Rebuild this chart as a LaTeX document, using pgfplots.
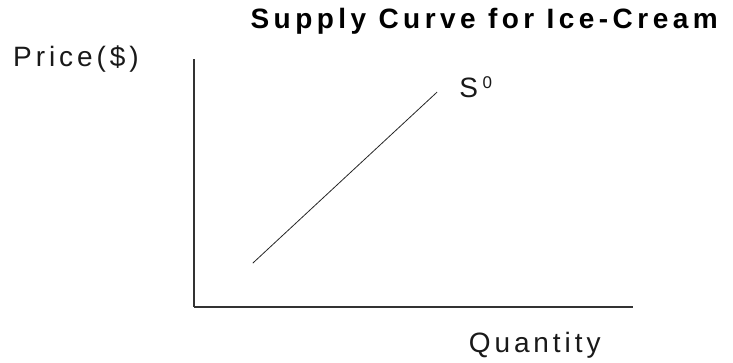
\documentclass[border=0pt]{standalone}
\usepackage{fontspec}
\setmainfont{Liberation Sans}
\usepackage{pgfplots}
\pgfplotsset{compat=1.18}
\begin{document}
\begin{tikzpicture}[x=1pt,y=1pt]
\path[use as bounding box] (0,0) rectangle (733,363);
\begin{axis}[
  at={(194pt,56pt)}, anchor=south west,
  scale only axis, width=439pt, height=248pt,
  xmin=0, xmax=10, ymin=0, ymax=10,
  axis lines=left,
  axis line style={-, line width=1.3pt, color=black!80},
  xtick=\empty, ytick=\empty,
  clip=false,
  title={\fontsize{28}{31}\selectfont\bfseries\addfontfeature{LetterSpace=16}Supply Curve for Ice-Cream},
  title style={at={(axis description cs:0.661,1.097)}, anchor=base, inner sep=0pt},
  xlabel={\fontsize{28}{31}\selectfont\addfontfeature{LetterSpace=14}Quantity},
  xlabel style={at={(axis description cs:0.776,-0.185)}, anchor=base, inner sep=0pt, color=black!90},
]
\addplot[color=black!85, line width=0.8pt] coordinates {(1.34,1.77) (5.54,8.67)};
\node[anchor=base, inner sep=0pt, color=black!90] at (axis description cs:-0.269,0.968)
  {\fontsize{28}{31}\selectfont\addfontfeature{LetterSpace=14}Price(\$)};
\node[anchor=base west, inner sep=0pt, color=black!90] at (axis cs:6.04,8.43)
  {\fontsize{28}{31}\selectfont S\,\raisebox{9pt}{\fontsize{17}{20}\selectfont 0}};
\end{axis}
\end{tikzpicture}
\end{document}
